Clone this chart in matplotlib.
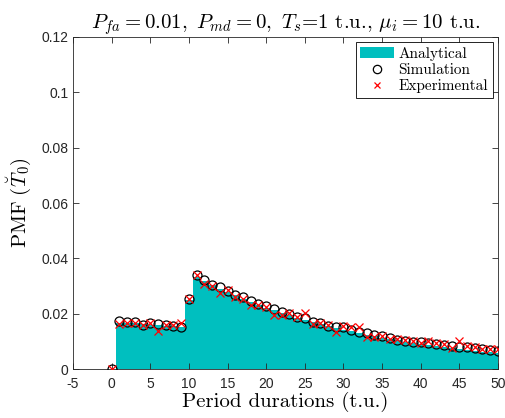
import numpy as np
import matplotlib
matplotlib.use('Agg')
from matplotlib import pyplot as plt
from matplotlib.patches import Patch
from matplotlib.lines import Line2D

# period durations (t.u.)
durations = list(range(0, 51))

# simulated PMF (circles)
simulation = [0.0,
              0.0174, 0.0171, 0.0169, 0.0161, 0.0165, 0.0163, 0.0158, 0.0155, 0.0151,
              0.0253, 0.0339, 0.0323, 0.0304, 0.0298, 0.0281, 0.0267, 0.0259, 0.0245,
              0.0237, 0.0228, 0.0217, 0.0206, 0.0199, 0.0189, 0.0186, 0.0169, 0.0165,
              0.0157, 0.0153, 0.0153, 0.0142, 0.0135, 0.0129, 0.0122, 0.0119, 0.0113,
              0.0106, 0.0102, 0.0099, 0.0099, 0.0096, 0.0091, 0.0086, 0.0083, 0.0081,
              0.0080, 0.0077, 0.0071, 0.0070, 0.0066]

# analytical PMF (filled stairs)
analytical = [0.0,
              0.0168, 0.0167, 0.0165, 0.0163, 0.0161, 0.0159, 0.0157, 0.0155, 0.0153,
              0.0250, 0.0333, 0.0318, 0.0304, 0.0291, 0.0278, 0.0266, 0.0254, 0.0243,
              0.0232, 0.0222, 0.0212, 0.0203, 0.0194, 0.0186, 0.0177, 0.0170, 0.0162,
              0.0155, 0.0148, 0.0142, 0.0136, 0.0130, 0.0124, 0.0119, 0.0113, 0.0108,
              0.0104, 0.0099, 0.0095, 0.0091, 0.0087, 0.0083, 0.0079, 0.0076, 0.0073,
              0.0069, 0.0066, 0.0063, 0.0061, 0.0058]

# experimental PMF (crosses)
experimental = [0.0,
                0.0163, 0.0168, 0.0165, 0.0158, 0.0165, 0.0139, 0.0158, 0.0158, 0.0165,
                0.0253, 0.0339, 0.0307, 0.0300, 0.0276, 0.0286, 0.0261, 0.0254, 0.0232,
                0.0232, 0.0225, 0.0196, 0.0194, 0.0201, 0.0189, 0.0201, 0.0163, 0.0165,
                0.0159, 0.0133, 0.0155, 0.0153, 0.0151, 0.0117, 0.0117, 0.0119, 0.0108,
                0.0108, 0.0104, 0.0102, 0.0096, 0.0100, 0.0094, 0.0089, 0.0075, 0.0100,
                0.0083, 0.0081, 0.0071, 0.0072, 0.0071]

yticks = [0, 0.02, 0.04, 0.06, 0.08, 0.1, 0.12]
ytick_labels = ['0', '0.02', '0.04', '0.06', '0.08', '0.1', '0.12']
xticks = list(range(-5, 51, 5))

plt.rcParams['mathtext.fontset'] = 'cm'
plt.rcParams['font.family'] = 'Liberation Sans'
plt.rcParams['axes.unicode_minus'] = False
plt.rcParams['axes.linewidth'] = 0.6

teal = '#00bfbf'
tick_col = '#262626'
cm_font = 'cmr10'

fig = plt.figure(figsize=(5.05, 4.18), dpi=100)
ax = fig.add_axes([0.1446, 0.117, 0.8414, 0.7945])

ax.bar(durations, analytical, width=1.0, color=teal, edgecolor='none', zorder=1)
ax.plot(durations, simulation, 'o', mfc='none', mec='black', ms=6.5, mew=0.9, zorder=3)
ax.plot(durations, experimental, 'x', color='red', ms=5.5, mew=0.9, zorder=4)

ax.set_xlim(-5, 50)
ax.set_ylim(0, 0.12)
ax.set_xticks(xticks)
ax.set_yticks(yticks)
ax.set_yticklabels(ytick_labels)
ax.tick_params(direction='in', length=4, width=0.6, top=True, right=True,
               labelsize=10, colors=tick_col)
ax.tick_params(axis='x', pad=6)
for s in ax.spines.values():
    s.set_color(tick_col)

ax.set_xlabel('Period durations (t.u.)', fontsize=15, family=cm_font, labelpad=0)
# caron over T drawn as a breve (mathtext misplaces \check)
ax.set_ylabel(r'$\mathrm{PMF}\ (\breve{T}_0)$', fontsize=15, labelpad=6)
ax.set_title(r'$P_{fa}=0.01,\ P_{md}=0,\ T_s$=1 t.u., $\mu_i=10$ t.u.',
             fontsize=15, family=cm_font, pad=6)

handles = [Patch(facecolor=teal, edgecolor='none'),
           Line2D([], [], ls='none', marker='o', mfc='none', mec='black', ms=6, mew=0.9),
           Line2D([], [], ls='none', marker='x', color='red', ms=5, mew=0.9)]
labels = ['Analytical', 'Simulation', 'Experimental']
leg = ax.legend(handles, labels, loc='upper right', prop={'family': cm_font, 'size': 11},
                fancybox=False, framealpha=1, edgecolor='black', borderpad=0.3,
                labelspacing=0.15, handlelength=2.2, handletextpad=0.3,
                borderaxespad=0.35)
leg.get_frame().set_linewidth(0.6)

fig.savefig('out.png', dpi=100)
